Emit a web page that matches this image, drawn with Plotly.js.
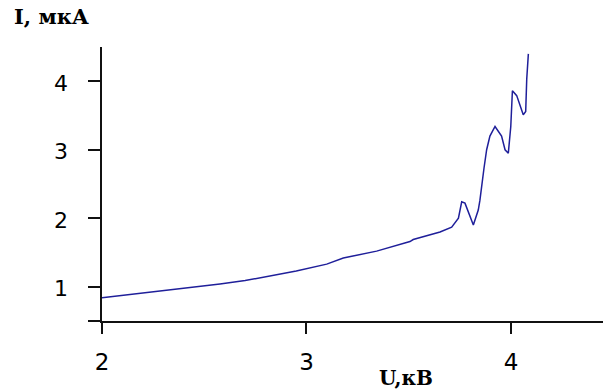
<!DOCTYPE html>
<html><head><meta charset="utf-8">
<script src="https://cdn.plot.ly/plotly-3.0.1.min.js"></script>
<style>html,body{margin:0;padding:0;background:#fff}#c{width:603px;height:391px}</style>
</head><body><div id="c"></div>
<script>
const voltage = [2.0, 2.2, 2.4, 2.577, 2.7, 2.805, 2.95, 3.099, 3.18, 3.343, 3.506, 3.522, 3.653, 3.71, 3.743, 3.759, 3.775, 3.816, 3.84, 3.848, 3.857, 3.868, 3.881, 3.897, 3.922, 3.954, 3.971, 3.987, 3.999, 4.007, 4.028, 4.06, 4.072, 4.077, 4.085];
const current = [0.84, 0.91, 0.97, 1.04, 1.09, 1.15, 1.23, 1.33, 1.42, 1.52, 1.66, 1.69, 1.80, 1.87, 2.0, 2.24, 2.22, 1.90, 2.12, 2.26, 2.49, 2.73, 3.0, 3.20, 3.34, 3.20, 3.0, 2.95, 3.34, 3.86, 3.79, 3.51, 3.56, 4.03, 4.40];
const xTicks = [2, 3, 4];
const xTickText = ['2', '3', '4'];
const yTicks = [0.5, 1, 2, 3, 4];
const yTickText = ['', '1', '2', '3', '4'];
const xTitle = 'U,кВ';
const yTitle = 'I, мкА';

const yLabelAnns = yTicks.map((v, i) => ({
  text: yTickText[i], xref: 'paper', yref: 'y', x: -0.064, y: v, yshift: -2,
  xanchor: 'right', yanchor: 'middle', showarrow: false,
  font: {family: 'DejaVu Sans, sans-serif', size: 22, color: '#000'}
})).filter(a => a.text !== '');

Plotly.newPlot('c', [{
  x: voltage, y: current, type: 'scatter', mode: 'lines',
  line: {color: '#1f1f9a', width: 1.5}, hoverinfo: 'none'
}], {
  width: 603, height: 391,
  margin: {l: 102, r: 0, t: 47, b: 70},
  paper_bgcolor: '#fff', plot_bgcolor: '#fff',
  showlegend: false,
  xaxis: {
    range: [2, 4.45], tickvals: xTicks, ticktext: xTickText,
    showgrid: false, zeroline: false, showline: true, linecolor: '#111', linewidth: 2,
    ticks: 'outside', ticklen: 11, tickwidth: 2, tickcolor: '#111',
    ticklabelstandoff: 8,
    tickfont: {family: 'DejaVu Sans, sans-serif', size: 23, color: '#000'},
    fixedrange: true
  },
  yaxis: {
    range: [0.5, 4.5], tickvals: yTicks, showticklabels: false,
    showgrid: false, zeroline: false, showline: true, linecolor: '#111', linewidth: 2,
    ticks: 'outside', ticklen: 12, tickwidth: 2, tickcolor: '#111',
    fixedrange: true
  },
  annotations: yLabelAnns.concat([
    {text: '<b>' + xTitle + '</b>', xref: 'paper', yref: 'paper', x: 0, xshift: 304, y: 0, yshift: -57,
     xanchor: 'center', yanchor: 'middle', showarrow: false,
     font: {family: 'DejaVu Serif, serif', size: 20, color: '#000'}},
    {text: '<b>' + yTitle + '</b>', xref: 'paper', yref: 'paper', x: 0, xshift: -90, y: 1, yshift: 31,
     xanchor: 'left', yanchor: 'middle', showarrow: false,
     font: {family: 'DejaVu Serif, serif', size: 21, color: '#000'}}
  ])
}, {staticPlot: true});
</script></body></html>
